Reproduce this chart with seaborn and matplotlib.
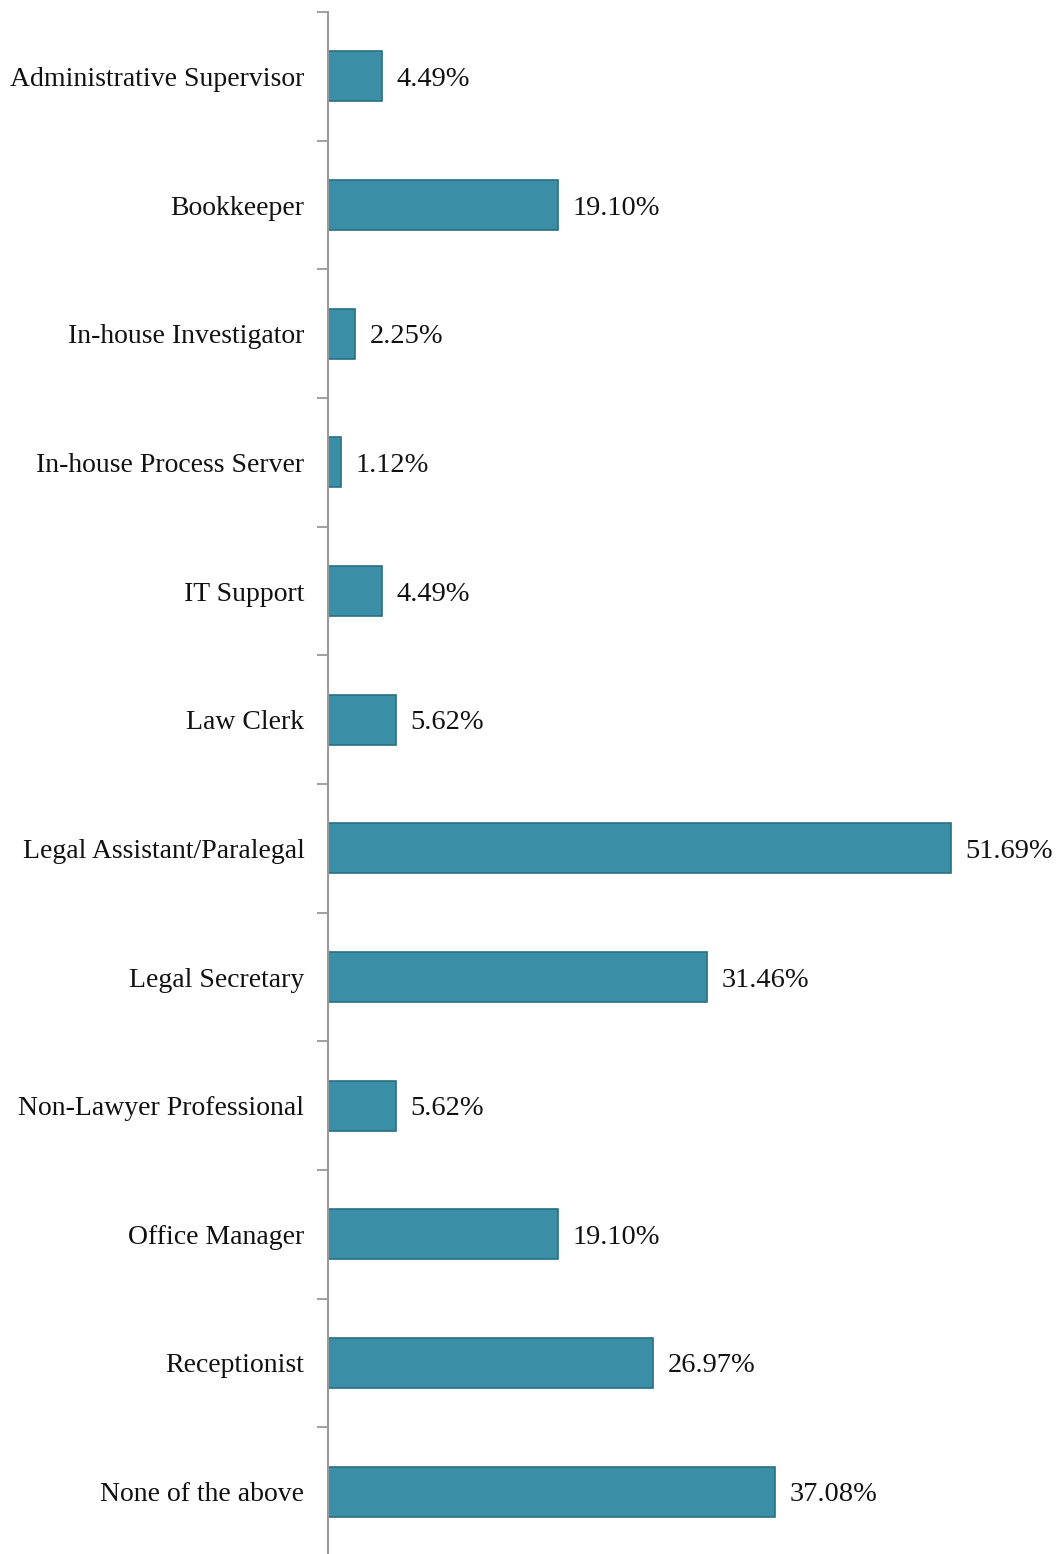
import matplotlib
matplotlib.use("Agg")
import matplotlib.pyplot as plt
import seaborn as sns
import pandas as pd
import numpy as np

categories = ["Administrative Supervisor", "Bookkeeper", "In-house Investigator",
              "In-house Process Server", "IT Support", "Law Clerk",
              "Legal Assistant/Paralegal", "Legal Secretary", "Non-Lawyer Professional",
              "Office Manager", "Receptionist", "None of the above"]
values = [4.49, 19.10, 2.25, 1.12, 4.49, 5.62, 51.69, 31.46, 5.62, 19.10, 26.97, 37.08]
labels = ["4.49%", "19.10%", "2.25%", "1.12%", "4.49%", "5.62%", "51.69%", "31.46%",
          "5.62%", "19.10%", "26.97%", "37.08%"]

df = pd.DataFrame({"cat": categories, "val": values})

sns.set_theme(style="white")
plt.rcParams['font.family'] = ['Liberation Serif', 'DejaVu Serif']

W, H = 1060, 1554
fig = plt.figure(figsize=(W / 100, H / 100), dpi=100)
ax = fig.add_axes([328 / W, -2 / H, (W - 328) / W, (H - 10) / H])

sns.barplot(data=df, x="val", y="cat", order=categories, orient="h",
            color="#3A8EA5", width=0.39, ax=ax, edgecolor="#2A6F82", linewidth=1.2,
            saturation=1)

ax.set_xlim(0, (W - 328) / 12.05)
ax.set_ylim(len(categories) - 0.5, -0.5)
ax.set_xlabel("")
ax.set_ylabel("")
ax.set_xticks([])

for s in ["top", "right", "bottom"]:
    ax.spines[s].set_visible(False)
ax.spines["left"].set_color("#999999")
ax.spines["left"].set_linewidth(1.5)

ax.set_yticks(range(len(categories)))
ax.set_yticklabels(categories, fontsize=20, color="#111111")
ax.tick_params(axis="y", which="major", length=0, pad=17)
ax.set_yticks(np.arange(-0.5, len(categories), 1.0), minor=True)
ax.tick_params(axis="y", which="minor", length=8, width=1.3, color="#999999", left=True)

for i, (v, lab) in enumerate(zip(values, labels)):
    ax.text(v + 1.2, i, lab, va="center_baseline", ha="left", fontsize=20.5, color="#111111")

fig.savefig("out.png", dpi=100)
